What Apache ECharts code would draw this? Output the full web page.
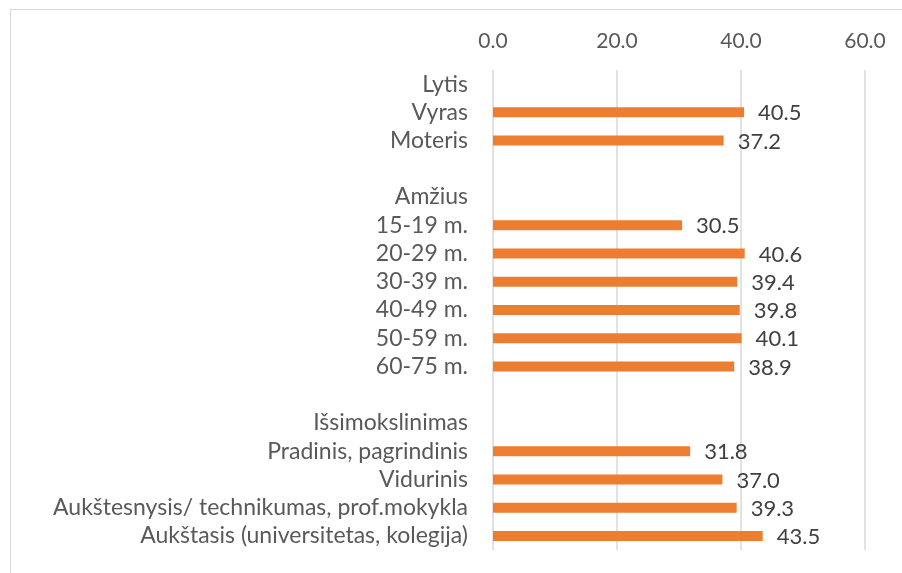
<!DOCTYPE html>
<html>
<head>
<meta charset="utf-8">
<script src="https://cdn.jsdelivr.net/npm/echarts@6/dist/echarts.min.js"></script>
<style>
  html, body { margin: 0; padding: 0; background: #fff; }
  #frame { position: absolute; left: 10px; top: 9px; width: 892px; height: 564px;
           border-top: 1px solid #d9d9d9; border-left: 1px solid #d9d9d9; }
  #chart { position: absolute; left: 0; top: 0; width: 902px; height: 573px; }
</style>
</head>
<body>
<div id="frame"></div>
<div id="chart"></div>
<script>
const categories = [
  'Lytis', 'Vyras', 'Moteris', '',
  'Amžius', '15-19 m.', '20-29 m.', '30-39 m.', '40-49 m.', '50-59 m.', '60-75 m.', ' ',
  'Išsimokslinimas', 'Pradinis, pagrindinis', 'Vidurinis',
  'Aukštesnysis/ technikumas, prof.mokykla', 'Aukštasis (universitetas, kolegija)'
]
const values = [
  null, 40.5, 37.2, null,
  null, 30.5, 40.6, 39.4, 39.8, 40.1, 38.9, null,
  null, 31.8, 37.0, 39.3, 43.5
]
const ticks = [0, 20, 40, 60]

const font = 'Lato, "Open Sans", sans-serif'
let chart = echarts.init(document.getElementById('chart'))
chart.setOption({
  animation: false,
  grid: { left: 493, right: 37, top: 70, bottom: 23 },
  xAxis: {
    type: 'value',
    position: 'top',
    min: ticks[0],
    max: ticks[ticks.length - 1],
    interval: 20,
    axisLine: { show: false },
    axisTick: { show: false },
    axisLabel: {
      color: '#595959', fontSize: 21, fontFamily: font, margin: 18,
      formatter: v => v.toFixed(1)
    },
    splitLine: { lineStyle: { color: '#d9d9d9', width: 1.5 } }
  },
  yAxis: {
    type: 'category',
    inverse: true,
    data: categories,
    axisLine: { show: false },
    axisTick: { show: false },
    axisLabel: { color: '#595959', fontSize: 23, fontFamily: font, margin: 25, interval: 0 }
  },
  series: [{
    type: 'bar',
    data: values,
    barWidth: 10,
    itemStyle: { color: '#ED7D31' },
    label: {
      show: true,
      position: 'right',
      distance: 14,
      offset: [0, 1],
      color: '#404040',
      fontSize: 22,
      fontFamily: font,
      formatter: p => p.value == null ? '' : p.value.toFixed(1)
    }
  }]
})
</script>
</body>
</html>
